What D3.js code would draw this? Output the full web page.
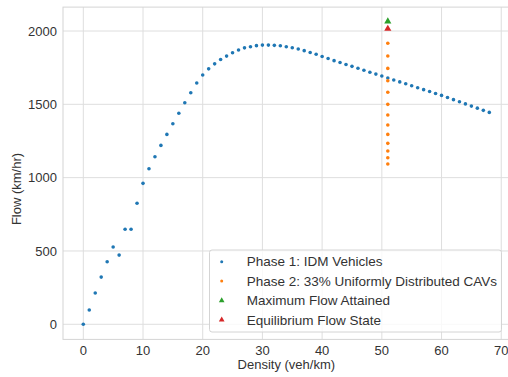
<!DOCTYPE html>
<html>
<head>
<meta charset="utf-8">
<script src="https://cdn.jsdelivr.net/npm/d3@7"></script>
<style>
  body { margin: 0; background: #fff; }
  text { font-family: "Liberation Sans", Arial, sans-serif; }
</style>
</head>
<body>
<div class="chart"></div>
<script>
// phase 1: IDM vehicles, density 0..68 veh/km
var idmDensity = [0,1,2,3,4,5,6,7,8,9,10,11,12,13,14,15,16,17,18,19,20,21,22,23,24,25,26,27,28,29,30,
  31,32,33,34,35,36,37,38,39,40,41,42,43,44,45,46,47,48,49,50,51,52,53,54,55,56,57,58,59,60,
  61,62,63,64,65,66,67,68];
var idmFlow = [0,97,213,322,427,527,472,648,648,825,961,1061,1143,1220,1295,1368,1439,1511,1579,1645,1700,
  1742,1776,1806,1829,1852,1870,1885,1893,1900,1904,1904,1902,1899,1893,1886,1877,1866,1853,1841,
  1826,1812,1798,1785,1772,1759,1746,1732,1719,1706,1693,1680,1666,1653,1640,1627,1613,1600,1587,1574,
  1561,1547,1532,1518,1503,1488,1474,1459,1445];

// phase 2: 33% uniformly distributed CAVs at density 51
var cavDensity = 51;
var cavFlow = [1093,1136,1182,1234,1295,1359,1427,1500,1582,1661,1745,1830,1916];

var maxFlow = {density: 51, flow: 2065};
var eqFlow = {density: 51, flow: 2015};

var xTicks = [0,10,20,30,40,50,60,70];
var yTicks = [0,500,1000,1500,2000];

var legendItems = [
  {label: "Phase 1: IDM Vehicles", color: "#1f77b4", shape: "dot"},
  {label: "Phase 2: 33% Uniformly Distributed CAVs", color: "#ff7f0e", shape: "dot"},
  {label: "Maximum Flow Attained", color: "#2ca02c", shape: "tri"},
  {label: "Equilibrium Flow State", color: "#d62728", shape: "tri"}
];

var w = 508, h = 377;
var mLeft = 63, mRight = 509.6, mTop = 7.1, mBottom = 339.4;

var svg = d3.select(".chart").append("svg")
  .attr("width", w).attr("height", h);

var x = d3.scaleLinear().domain([-3.4, 71.4]).range([mLeft, mRight]);
var y = d3.scaleLinear().domain([-103, 2163]).range([mBottom, mTop]);

// grid
svg.append("g").selectAll("line").data(xTicks).enter().append("line")
  .attr("x1", d => x(d)).attr("x2", d => x(d))
  .attr("y1", mTop).attr("y2", mBottom)
  .attr("stroke", "#dedede").attr("stroke-width", 1);
svg.append("g").selectAll("line").data(yTicks).enter().append("line")
  .attr("x1", mLeft).attr("x2", mRight)
  .attr("y1", d => y(d)).attr("y2", d => y(d))
  .attr("stroke", "#dedede").attr("stroke-width", 1);

// frame
svg.append("rect")
  .attr("x", mLeft).attr("y", mTop)
  .attr("width", mRight - mLeft).attr("height", mBottom - mTop)
  .attr("fill", "none").attr("stroke", "#d4d4d4").attr("stroke-width", 1);

// tick labels
svg.append("g").selectAll("text").data(xTicks).enter().append("text")
  .attr("x", d => x(d)).attr("y", 355)
  .attr("text-anchor", "middle")
  .attr("font-size", 13).attr("fill", "#333")
  .text(d => d);
svg.append("g").selectAll("text").data(yTicks).enter().append("text")
  .attr("x", 57).attr("y", d => y(d) + 4.6)
  .attr("text-anchor", "end")
  .attr("font-size", 13).attr("fill", "#333")
  .text(d => d);

// axis labels
svg.append("text")
  .attr("x", (mLeft + mRight) / 2).attr("y", 369)
  .attr("text-anchor", "middle")
  .attr("font-size", 13).attr("fill", "#333")
  .text("Density (veh/km)");
svg.append("text")
  .attr("transform", "translate(21," + 189 + ") rotate(-90)")
  .attr("text-anchor", "middle")
  .attr("font-size", 13).attr("fill", "#333")
  .text("Flow (km/hr)");

// phase 1 points
svg.append("g").selectAll("circle").data(idmDensity).enter().append("circle")
  .attr("cx", d => x(d)).attr("cy", (d, i) => y(idmFlow[i]))
  .attr("r", 1.8).attr("fill", "#1f77b4");

// phase 2 points
svg.append("g").selectAll("circle").data(cavFlow).enter().append("circle")
  .attr("cx", x(cavDensity)).attr("cy", d => y(d))
  .attr("r", 1.8).attr("fill", "#ff7f0e");

var tri = d3.symbol().type(d3.symbolTriangle).size(22);
svg.append("path").attr("d", tri)
  .attr("transform", "translate(" + x(maxFlow.density) + "," + y(maxFlow.flow) + ")")
  .attr("fill", "#2ca02c");
svg.append("path").attr("d", tri)
  .attr("transform", "translate(" + x(eqFlow.density) + "," + y(eqFlow.flow) + ")")
  .attr("fill", "#d62728");

// legend
var lg = svg.append("g");
lg.append("rect")
  .attr("x", 209.5).attr("y", 250).attr("width", 292).attr("height", 82)
  .attr("rx", 2.5)
  .attr("fill", "#fff").attr("fill-opacity", 0.8)
  .attr("stroke", "#d4d4d4");
var rows = lg.selectAll("g.row").data(legendItems).enter().append("g")
  .attr("class", "row")
  .attr("transform", (d, i) => "translate(0," + (261.7 + i * 19.4) + ")");
rows.filter(d => d.shape == "dot").append("circle")
  .attr("cx", 221.7).attr("cy", 0).attr("r", 1.5)
  .attr("fill", d => d.color);
rows.filter(d => d.shape == "tri").append("path")
  .attr("d", d3.symbol().type(d3.symbolTriangle).size(14))
  .attr("transform", "translate(221.7,0)")
  .attr("fill", d => d.color);
rows.append("text")
  .attr("x", 246.7).attr("y", 4.7)
  .attr("font-size", 13.5).attr("fill", "#333")
  .text(d => d.label);
</script>
</body>
</html>
